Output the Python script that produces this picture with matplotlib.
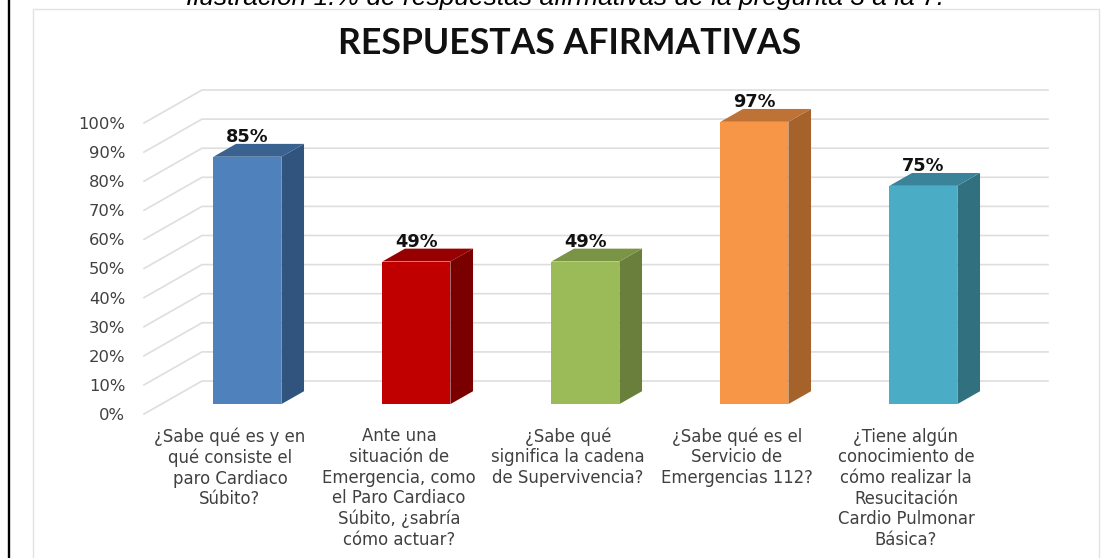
import matplotlib
matplotlib.use("Agg")
import matplotlib.pyplot as plt
from matplotlib.patches import Polygon, Rectangle

W, H = 1106, 558

caption = "Ilustración 1.% de respuestas afirmativas de la pregunta 3 a la 7."
title = "RESPUESTAS AFIRMATIVAS"
categories = [
    "¿Sabe qué es y en\nqué consiste el\nparo Cardiaco\nSúbito?",
    "Ante una\nsituación de\nEmergencia, como\nel Paro Cardiaco\nSúbito, ¿sabría\ncómo actuar?",
    "¿Sabe qué\nsignifica la cadena\nde Supervivencia?",
    "¿Sabe qué es el\nServicio de\nEmergencias 112?",
    "¿Tiene algún\nconocimiento de\ncómo realizar la\nResucitación\nCardio Pulmonar\nBásica?",
]
values = [85, 49, 49, 97, 75]
ticks = [0, 10, 20, 30, 40, 50, 60, 70, 80, 90, 100]
front_colors = ["#4F81BD", "#C00000", "#9BBB59", "#F79646", "#4BACC6"]
side_colors = ["#31547F", "#7A0000", "#6A7F3B", "#A5622A", "#31717F"]
top_colors = ["#3A6290", "#960000", "#7A9446", "#BF7236", "#3A8399"]

GRID = "#DEDEDE"
TEXT = "#404040"

fig = plt.figure(figsize=(W / 100, H / 100), dpi=100, facecolor="white")


def px_box(left, top, right, bottom):
    return [left / W, 1 - bottom / H, (right - left) / W, (bottom - top) / H]


# page furniture, in pixels
page = fig.add_axes([0, 0, 1, 1], zorder=0)
page.set_xlim(0, W)
page.set_ylim(H, 0)
page.axis("off")
page.add_patch(Rectangle((33, 9), 1066, 560, fc="white", ec="#E2E2E2", lw=1.0))
page.plot([9, 9], [0, H], color="black", lw=1.7)
page.text(565, 5, caption, ha="center", va="baseline", style="italic",
          family="Liberation Sans", fontsize=19, color="black")
page.text(570, 44, title, ha="center", va="center", family="Lato",
          fontweight="bold", fontsize=25.7, color="#111111")

# front plane of the 3D box: 0% at y=414, 100% at y=123
ax = fig.add_axes(px_box(144, 123, 990, 414), zorder=1)
ax.patch.set_alpha(0)
step = 169.0
ax.set_xlim((144 - 230) / step, (990 - 230) / step)
ax.set_ylim(0, 100)
x_per_depth = 58 / step
y_per_depth = 33 / 2.91


def proj(x, v, d):
    # oblique projection, depth 0 is the front plane and 1 the back wall
    return x + d * x_per_depth, v + d * y_per_depth


x_left, x_right = ax.get_xlim()
for t in ticks:
    a, b, c = proj(x_left, t, 0), proj(x_left, t, 1), proj(x_right, t, 1)
    ax.plot([a[0], b[0], c[0]], [a[1], b[1], c[1]], color=GRID, lw=1.2,
            clip_on=False, zorder=1, solid_joinstyle="miter")

bar_w = 68 / step
d0, d1 = 0.30, 0.69
for i, v in enumerate(values):
    xa = i - bar_w / 2
    xb = i + bar_w / 2
    front = [proj(xa, 0, d0), proj(xb, 0, d0), proj(xb, v, d0), proj(xa, v, d0)]
    side = [proj(xb, 0, d0), proj(xb, 0, d1), proj(xb, v, d1), proj(xb, v, d0)]
    top = [proj(xa, v, d0), proj(xb, v, d0), proj(xb, v, d1), proj(xa, v, d1)]
    ax.add_patch(Polygon(side, fc=side_colors[i], ec="none", zorder=3, clip_on=False))
    ax.add_patch(Polygon(top, fc=top_colors[i], ec="none", zorder=3, clip_on=False))
    ax.add_patch(Polygon(front, fc=front_colors[i], ec="none", zorder=4, clip_on=False))
    lx, ly = proj(i, v, d0)
    ax.annotate(f"{v}%", (lx, ly), xytext=(0, 14.4), textcoords="offset points",
                ha="center", va="center", family="DejaVu Sans", fontweight="bold",
                fontsize=12.8, color="#111111", zorder=5, annotation_clip=False)

ax.set_yticks(ticks)
ax.set_yticklabels([f"{t}%" for t in ticks], family="DejaVu Sans", fontsize=11.8, color=TEXT)
ax.set_xticks(range(len(categories)))
ax.set_xticklabels(categories, family="DejaVu Sans", fontsize=11.9, color=TEXT, linespacing=1.19)
ax.tick_params(axis="y", length=0, pad=13.5)
ax.tick_params(axis="x", length=0, pad=9.5)
for s in ax.spines.values():
    s.set_visible(False)

fig.savefig("out.png", dpi=100)
